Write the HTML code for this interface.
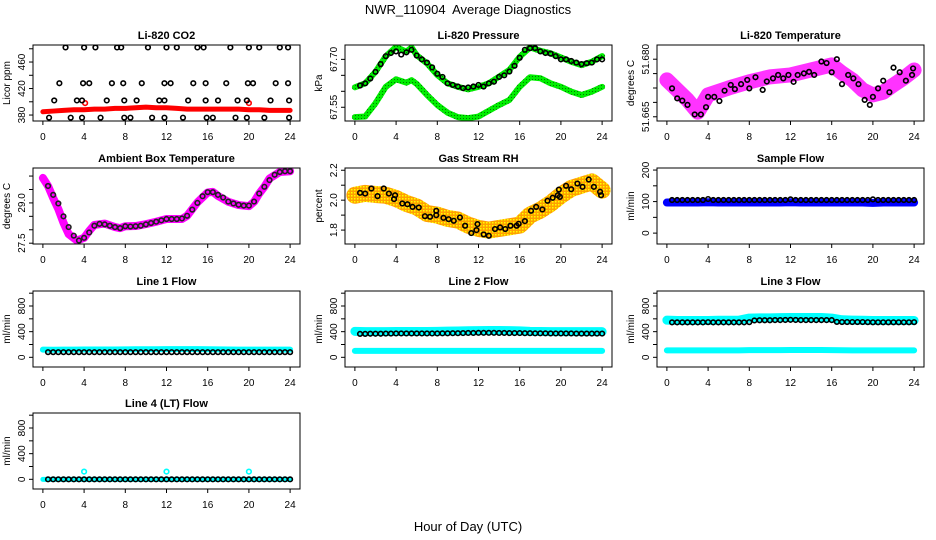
<!DOCTYPE html>
<html><head><meta charset="utf-8"><title>NWR_110904 Average Diagnostics</title>
<style>
html,body{margin:0;padding:0;background:#fff;}
svg{display:block;font-family:"Liberation Sans",Arial,sans-serif;}
</style></head>
<body>
<svg id="chart" width="936" height="540" viewBox="0 0 936 540" xmlns="http://www.w3.org/2000/svg">
<defs>
<pattern id="rhpat" width="3" height="3" patternUnits="userSpaceOnUse"><rect width="3" height="3" fill="#ffa000"/><rect x="0" y="0" width="1.5" height="1.5" fill="#ffff00"/></pattern>
<pattern id="grpat" width="3" height="3" patternUnits="userSpaceOnUse"><rect width="3" height="3" fill="#00ee00"/><rect x="1" y="1" width="1" height="1" fill="#007700"/></pattern>
</defs>
<text x="468" y="14" text-anchor="middle" font-size="13" xml:space="preserve">NWR_110904  Average Diagnostics</text>
<text x="468" y="531" text-anchor="middle" font-size="13">Hour of Day (UTC)</text>
</svg>
<script>
// ---------- data ----------
const HOURS = [0,1,2,3,4,5,6,7,8,9,10,11,12,13,14,15,16,17,18,19,20,21,22,23,24];
const HALF = [0.5,1,1.5,2,2.5,3,3.5,4,4.5,5,5.5,6,6.5,7,7.5,8,8.5,9,9.5,10,10.5,11,11.5,12,12.5,13,13.5,14,14.5,15,15.5,16,16.5,17,17.5,18,18.5,19,19.5,20,20.5,21,21.5,22,22.5,23,23.5,24];
const X_TICKS = [0,4,8,12,16,20,24];

// CO2
const co2Red = [385,386,387,388,388,389,389,390,390,391,392,391,391,390,389,389,389,389,389,389,388,388,387,387,387];
const co2RedPtsX = [4.1,20];
const co2RedPtsY = [398,398];
const co2BlackX = [2.2,4,5.1,7.2,7.6,10.2,12,13,15,15.6,18.2,20,21,23,23.8, 1.6,3.9,4.5,6.7,7.8,9.6,11.8,12.4,14.6,15.8,17.8,19.9,20.4,22.6,23.8, 1.1,3.3,3.8,6.2,7.9,9.1,11.3,11.8,14.1,15.8,17,18.9,19.8,22.1,23.9, 0.6,2.7,3.8,5.6,7.9,8.5,10.6,11.8,13.6,15.9,16.5,18.7,19.8,21.5,23.9];
const co2BlackY = [482,482,482,482,482,482,482,482,482,482,482,482,482,482,482, 428,428,428,428,428,428,428,428,428,428,428,428,428,428,428, 402,402,402,402,402,402,402,402,402,402,402,402,402,402,402, 376,376,376,376,376,376,376,376,376,376,376,376,376,376,376];

// Pressure
const presX = [0,1,2,3,4,5,5.5,6,7,8,9,10,11,12,13,14,15,16,17,18,19,20,21,22,23,24];
const presUpper = [67.6125,67.625,67.661,67.710,67.739,67.724,67.7375,67.713,67.6875,67.651,67.625,67.614,67.606,67.614,67.625,67.646,67.667,67.708,67.7375,67.727,67.719,67.706,67.6925,67.682,67.6925,67.710];
const presLower = [67.519,67.521,67.5625,67.614,67.6375,67.627,67.635,67.623,67.5885,67.557,67.533,67.519,67.516,67.521,67.539,67.557,67.573,67.614,67.644,67.641,67.625,67.614,67.599,67.5885,67.599,67.614];
const presBlack = [67.618,67.625,67.64,67.661,67.685,67.71,67.72,67.725,67.715,67.722,67.73,67.712,67.70,67.69,67.675,67.655,67.645,67.625,67.62,67.615,67.61,67.612,67.615,67.62,67.615,67.625,67.63,67.645,67.65,67.662,67.68,67.705,67.73,67.735,67.735,67.725,67.72,67.718,67.71,67.70,67.70,67.695,67.69,67.685,67.688,67.69,67.70,67.70];

// Li-820 temperature
const tempX = [0,1,2,3,4,6,8,10,12,14,16,17,18,19,20,21,22,23,24];
const tempCloud = [51.6746,51.672,51.6694,51.6662,51.6707,51.6725,51.6741,51.6754,51.6759,51.6772,51.6785,51.6764,51.6746,51.672,51.6707,51.6714,51.6733,51.6751,51.6772];
const tempBlackX = [0.5,1,1.5,2,2.7,3.3,3.8,4,4.6,5.1,5.6,6.2,6.6,7.2,7.8,8,8.6,9.3,9.7,10.3,10.8,11.3,11.8,12.3,12.7,13.3,13.8,14.3,15,15.5,16,16.5,17,17.6,18.1,18.6,19.2,19.7,20,20.5,21,21.6,22,22.6,23.2,23.8,23.9];
const tempBlack = [51.6724,51.6698,51.6692,51.6681,51.6656,51.6656,51.6675,51.6702,51.6702,51.6691,51.6718,51.6733,51.6722,51.6735,51.6746,51.6724,51.6753,51.672,51.6742,51.675,51.6759,51.675,51.6759,51.6741,51.6759,51.6763,51.6767,51.6759,51.6794,51.679,51.6766,51.680,51.6735,51.6759,51.675,51.6735,51.6694,51.6681,51.6702,51.6724,51.6744,51.6714,51.6778,51.6766,51.6744,51.6759,51.6776];

// Ambient box temperature
const ambX = [0,0.5,1,1.5,2,2.5,3.3,4,4.5,5,6,7,7.5,8,9,10,11,12,13,13.5,14,15,16,16.5,17,18,19,20,20.5,21,21.5,22,23,24];
const ambBand = [29.93,29.63,29.18,28.77,28.26,27.84,27.60,27.70,27.96,28.18,28.23,28.10,28.06,28.13,28.14,28.21,28.30,28.40,28.40,28.40,28.52,29.02,29.39,29.41,29.26,29.04,28.92,28.88,29.04,29.35,29.60,29.91,30.15,30.18];
const ambBlack = [29.63,29.3,28.98,28.5,28.1,27.78,27.6,27.7,27.9,28.15,28.22,28.2,28.15,28.1,28.06,28.13,28.12,28.13,28.15,28.2,28.25,28.3,28.35,28.4,28.4,28.4,28.42,28.52,28.75,29.0,29.25,29.4,29.4,29.3,29.2,29.05,28.98,28.93,28.9,28.9,29.05,29.35,29.6,29.85,30.05,30.15,30.18,30.18];

// Gas stream RH
const rhCloud = [2.033,2.045,2.038,2.033,2.011,1.978,1.955,1.911,1.9,1.878,1.867,1.833,1.811,1.8,1.811,1.822,1.833,1.9,1.933,1.978,2.033,2.078,2.1,2.122,2.067];
const rhBlackX = [0.5,1,1.6,2.2,2.8,3.3,3.9,3.8,4.6,5.1,5.6,6.2,6.8,7.3,7.9,7.9,8.6,9.1,9.6,10.2,10.7,11.3,11.8,11.9,12.5,13,13.6,14.1,14.6,15.1,15.7,15.9,16.5,17.1,17.6,18.2,18.7,19.2,19.7,19.8,19.9,20.5,21,21.6,22.1,22.7,23.2,23.8,23.9];
const rhBlack = [2.049,2.044,2.078,2.027,2.078,2.044,2.033,2.007,1.978,1.973,1.955,1.951,1.893,1.889,1.9,1.929,1.882,1.873,1.862,1.884,1.829,1.78,1.8,1.84,1.771,1.762,1.807,1.818,1.807,1.829,1.829,1.842,1.86,1.929,1.955,1.938,1.996,2.016,2.033,2.071,2.022,2.096,2.073,2.111,2.089,2.138,2.089,2.056,2.033];

// Sample flow
const sampleBlue = [97,97,97,97,98,97,97,97,97,97,97,97,98,97,97,97,97,97,97,97,96,97,97,97,97];
const sampleBlack = [105,105,105,105,105,105,105,108,105,105,105,105,105,105,105,105,105,105,105,105,105,105,105,107,105,105,105,105,105,105,105,105,105,105,105,105,105,105,105,107,105,105,105,105,105,105,105,105];

// Line flows
const line1Cyan = [120,118,120,120,122,122,122,122,124,125,126,126,127,128,128,128,126,124,122,120,120,120,120,120,120];
const line1Black = [80,80,80,80,80,80,80,80,80,80,80,80,80,80,80,80,80,80,80,80,80,80,80,80,80,80,80,80,80,80,80,80,80,80,80,80,80,80,80,80,80,80,80,80,80,80,80,80];
const line2CyanHi = [405,400,400,400,402,402,402,402,405,408,410,414,416,418,418,416,412,405,402,400,400,400,400,400,400];
const line2CyanLo = [100,100,100,100,100,100,100,100,100,100,100,100,100,100,100,100,100,100,100,100,100,100,100,100,100];
const line2Black = [365,365,368,368,368,370,370,372,372,372,372,372,372,372,372,372,374,374,376,376,378,380,380,382,382,382,382,380,380,378,378,378,376,376,374,374,374,372,372,372,372,372,370,370,370,370,370,370];
const line3CyanHi = [580,575,575,575,575,578,578,580,612,615,615,618,620,620,620,620,612,585,580,578,575,575,575,575,575];
const line3CyanLo = [108,108,108,108,108,108,108,108,112,112,112,112,114,114,114,114,112,110,108,108,108,108,108,108,108];
const line3Black = [545,545,545,545,545,545,545,548,545,545,545,545,545,545,545,548,575,578,578,578,580,580,582,584,582,580,580,580,580,580,580,580,552,550,550,550,550,550,548,546,546,546,546,546,546,546,546,548];
const line4Cyan = [0,0,0,0,0,0,0,0,0,0,0,0,0,0,0,0,0,0,0,0,0,0,0,0,0];
const line4SpikeX = [4,12,20];
const line4SpikeY = [120,120,120];
const line4Black = [0,0,0,0,0,0,0,0,0,0,0,0,0,0,0,0,0,0,0,0,0,0,0,0,0,0,0,0,0,0,0,0,0,0,0,0,0,0,0,0,0,0,0,0,0,0,0,0];

// ---------- layout ----------
const NS = 'http://www.w3.org/2000/svg';
const svg = document.getElementById('chart');
const COLS = [[33,300],[345,612],[657,924]];
const ROWS = [[45,121],[168,244],[291,367],[413,489]];
const XMIN = -0.96, XMAX = 24.96;
let clipId = 0;

function mk(tag, parent) { const e = document.createElementNS(NS, tag); parent.appendChild(e); return e; }

function makePanel(col, row, ymin, ymax, title, ylab, ticks, tickLabels, name) {
  const [x0, x1] = COLS[col], [y0, y1] = ROWS[row];
  const g = mk('g', svg);
  
  
  const sx = h => x0 + (h - XMIN) / (XMAX - XMIN) * (x1 - x0);
  const sy = v => y1 - (v - ymin) / (ymax - ymin) * (y1 - y0);
  const cid = 'clip' + (clipId++);
  const cp = mk('clipPath', g); cp.setAttribute('id', cid);
  const cr = mk('rect', cp);
  cr.setAttribute('x', x0); cr.setAttribute('y', y0); cr.setAttribute('width', x1 - x0); cr.setAttribute('height', y1 - y0);
  const data = mk('g', g);
  data.setAttribute('clip-path', 'url(#' + cid + ')');
  
  
  const t = mk('text', g);
  t.setAttribute('x', (x0 + x1) / 2); t.setAttribute('y', y0 - 6);
  t.setAttribute('text-anchor', 'middle'); t.setAttribute('font-size', '11'); t.setAttribute('font-weight', 'bold');
  t.textContent = title;
  
  
  const yl = mk('text', g);
  yl.setAttribute('transform', 'translate(' + (x0 - 23) + ',' + ((y0 + y1) / 2) + ') rotate(-90)');
  yl.setAttribute('text-anchor', 'middle'); yl.setAttribute('font-size', '10');
  yl.textContent = ylab;
  
  
  const ya = mk('g', g);
  
  
  ticks.forEach((v, i) => {
    const ln = mk('line', ya);
    ln.setAttribute('x1', x0 - 4); ln.setAttribute('x2', x0); ln.setAttribute('y1', sy(v)); ln.setAttribute('y2', sy(v));
    ln.setAttribute('stroke', '#000'); ln.setAttribute('stroke-width', '1');
    
    
    if (tickLabels[i]) {
      const tl = mk('text', ya);
      tl.setAttribute('transform', 'translate(' + (x0 - 8) + ',' + sy(v) + ') rotate(-90)');
      tl.setAttribute('text-anchor', 'middle'); tl.setAttribute('font-size', '10');
      tl.textContent = tickLabels[i];
      
      
    }
  });
  const xa = mk('g', g);
  
  
  X_TICKS.forEach(h => {
    const ln = mk('line', xa);
    ln.setAttribute('x1', sx(h)); ln.setAttribute('x2', sx(h)); ln.setAttribute('y1', y1); ln.setAttribute('y2', y1 + 4);
    ln.setAttribute('stroke', '#000');
    
    
    const tl = mk('text', xa);
    tl.setAttribute('x', sx(h)); tl.setAttribute('y', y1 + 19);
    tl.setAttribute('text-anchor', 'middle'); tl.setAttribute('font-size', '10');
    tl.textContent = String(h);
    
    
  });
  return { g, data, sx, sy, x0, x1, y0, y1, name };
}

function finishPanel(p) {
  const b = mk('rect', p.g);
  b.setAttribute('x', p.x0); b.setAttribute('y', p.y0); b.setAttribute('width', p.x1 - p.x0); b.setAttribute('height', p.y1 - p.y0);
  b.setAttribute('fill', 'none'); b.setAttribute('stroke', '#000'); b.setAttribute('stroke-width', '1');
  
  
}

function band(p, xs, ys, color, width, label) {
  const pl = mk('polyline', p.data);
  pl.setAttribute('points', xs.map((h, i) => p.sx(h) + ',' + p.sy(ys[i])).join(' '));
  pl.setAttribute('fill', 'none'); pl.setAttribute('stroke', color); pl.setAttribute('stroke-width', width);
  pl.setAttribute('stroke-linejoin', 'round'); pl.setAttribute('stroke-linecap', 'round');
  
  
}

function circles(p, xs, ys, color, label, r) {
  const g = mk('g', p.data);
  
  
  xs.forEach((h, i) => {
    const c = mk('circle', g);
    c.setAttribute('cx', p.sx(h)); c.setAttribute('cy', p.sy(ys[i])); c.setAttribute('r', r || 2.3);
    c.setAttribute('fill', 'none'); c.setAttribute('stroke', color); c.setAttribute('stroke-width', '1.6');
    
    
  });
}

const FLOW_TICKS = [0,200,400,600,800,1000];
const FLOW_LABELS = ['0','','400','','800',''];

let p = makePanel(0, 0, 371, 485.7, 'Li-820 CO2', 'Licor ppm', [380,400,420,440,460,480], ['380','','420','','460',''], 'co2');
band(p, HOURS, co2Red, '#ff0000', 5, 'co2-red-series');
circles(p, co2RedPtsX, co2RedPtsY, '#ff0000', 'co2-red-outliers');
circles(p, co2BlackX, co2BlackY, '#000', 'co2-black-series');
finishPanel(p);

p = makePanel(1, 0, 67.507, 67.745, 'Li-820 Pressure', 'kPa', [67.55,67.60,67.65,67.70], ['67.55','','','67.70'], 'pressure');
band(p, presX, presUpper, 'url(#grpat)', 6, 'pressure-upper-green');
band(p, presX, presLower, 'url(#grpat)', 6, 'pressure-lower-green');
circles(p, HALF, presBlack, '#000', 'pressure-black-series');
finishPanel(p);

p = makePanel(2, 0, 51.6639, 51.6837, 'Li-820 Temperature', 'degrees C', [51.665,51.66875,51.6725,51.67625,51.68], ['51.665','','','','51.680'], 'li820-temp');
band(p, tempX, tempCloud, '#ff33ff', 15, 'temp-magenta-cloud');
circles(p, tempBlackX, tempBlack, '#000', 'temp-black-series');
finishPanel(p);

p = makePanel(0, 1, 27.47, 30.3, 'Ambient Box Temperature', 'degrees C', [27.5,28,28.5,29,29.5,30], ['27.5','','','29.0','',''], 'ambient-temp');
band(p, ambX, ambBand, '#ff00ff', 8, 'ambient-magenta-series');
circles(p, HALF, ambBlack, '#222', 'ambient-black-series');
finishPanel(p);

p = makePanel(1, 1, 1.707, 2.215, 'Gas Stream RH', 'percent', [1.8,1.9,2.0,2.1,2.2], ['1.8','','2.0','','2.2'], 'rh');
band(p, HOURS, rhCloud, 'url(#rhpat)', 17, 'rh-orange-cloud');
circles(p, rhBlackX, rhBlack, '#000', 'rh-black-series');
finishPanel(p);

p = makePanel(2, 1, -34.5, 206.5, 'Sample Flow', 'ml/min', [0,50,100,150,200], ['0','','100','','200'], 'sample-flow');
band(p, HOURS, sampleBlue, '#0000ff', 8, 'sample-blue-series');
circles(p, HALF, sampleBlack, '#000', 'sample-black-series');
finishPanel(p);

p = makePanel(0, 2, -151, 1034, 'Line 1 Flow', 'ml/min', FLOW_TICKS, FLOW_LABELS, 'line1-flow');
band(p, HOURS, line1Cyan, '#00ffff', 6, 'line1-cyan-series');
circles(p, HALF, line1Black, '#000', 'line1-black-series');
finishPanel(p);

p = makePanel(1, 2, -151, 1034, 'Line 2 Flow', 'ml/min', FLOW_TICKS, FLOW_LABELS, 'line2-flow');
band(p, HOURS, line2CyanHi, '#00ffff', 9, 'line2-cyan-upper');
band(p, HOURS, line2CyanLo, '#00ffff', 6, 'line2-cyan-lower');
circles(p, HALF, line2Black, '#000', 'line2-black-series');
finishPanel(p);

p = makePanel(2, 2, -151, 1034, 'Line 3 Flow', 'ml/min', FLOW_TICKS, FLOW_LABELS, 'line3-flow');
band(p, HOURS, line3CyanHi, '#00ffff', 9, 'line3-cyan-upper');
band(p, HOURS, line3CyanLo, '#00ffff', 6, 'line3-cyan-lower');
circles(p, HALF, line3Black, '#000', 'line3-black-series');
finishPanel(p);

p = makePanel(0, 3, -151, 1034, 'Line 4 (LT) Flow', 'ml/min', FLOW_TICKS, FLOW_LABELS, 'line4-flow');
band(p, HOURS, line4Cyan, '#00ffff', 5, 'line4-cyan-series');
circles(p, line4SpikeX, line4SpikeY, '#00ffff', 'line4-cyan-spikes');
circles(p, HALF, line4Black, '#000', 'line4-black-series');
finishPanel(p);
</script>
</body></html>
